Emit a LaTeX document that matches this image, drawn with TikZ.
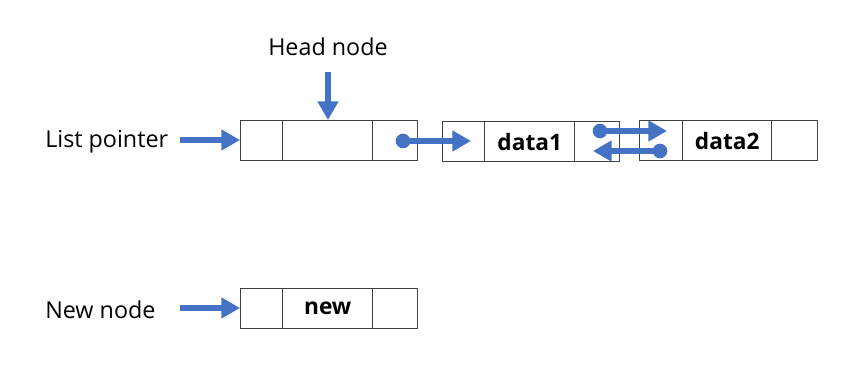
\documentclass[tikz,border=0pt]{standalone}
\usepackage{fontspec}
\setmainfont{Open Sans}
\usetikzlibrary{arrows.meta}
\definecolor{arrblue}{HTML}{4472C4}
\definecolor{boxline}{HTML}{404040}
\tikzset{
  cell/.style={draw=boxline, line width=1.1pt, minimum height=30pt, inner sep=0pt, anchor=north west},
  arr/.style={draw=arrblue, line width=3.8pt, -{Triangle[length=14pt,width=15pt]}},
  dot/.style={circle, fill=arrblue, minimum size=11pt, inner sep=0pt},
  lbl/.style={font=\fontsize{17.5}{20}\selectfont, inner sep=0pt},
  bold/.style={font=\fontsize{17}{20}\selectfont\bfseries, inner sep=0pt}
}
\begin{document}
\begin{tikzpicture}[x=0.75pt,y=-0.75pt]
\useasboundingbox (0,0) rectangle (858,366);
% head node
\node[cell, minimum width=31.5pt] (h1) at (240,120) {};
\node[cell, minimum width=67.5pt] (h2) at (282,120) {};
\node[cell, minimum width=33.75pt] (h3) at (372,120) {};
% data1
\node[cell, minimum width=31.5pt] (a1) at (442,121) {};
\node[cell, minimum width=67.5pt] (a2) at (484,121) {};
\node[cell, minimum width=33.75pt] (a3) at (574,121) {};
% data2
\node[cell, minimum width=32.25pt] (b1) at (639,120) {};
\node[cell, minimum width=66.75pt] (b2) at (682,120) {};
\node[cell, minimum width=34.5pt] (b3) at (771,120) {};
% new node
\node[cell, minimum width=31.5pt] (n1) at (240,288) {};
\node[cell, minimum width=67.5pt] (n2) at (282,288) {};
\node[cell, minimum width=33.75pt] (n3) at (372,288) {};
% texts
\node[bold] at (a2.center) {data1};
\node[bold] at (b2.center) {data2};
\node[bold] at (n2.center) {new};
\node[lbl] (hn) at (328,47) {Head node};
\node[lbl, anchor=west] (lp) at (45,142) {List pointer};
\node[lbl, anchor=west] (nn) at (45,310) {New node};
% arrows
\coordinate (lps) at (180,140);
\coordinate (nns) at (180,308);
\coordinate (hns) at (328,72);
\draw[arr] (lps) -- (lps -| h1.west);
\draw[arr] (nns) -- (nns -| n1.west);
\draw[arr] (hns) -- (hns |- h2.north);
% pointer links
\node[dot] (d1) at (403,141) {};
\coordinate (t1) at (471,141);
\draw[arr] (d1.center) -- (t1);
\node[dot] (d2) at (600,131) {};
\coordinate (t2) at (667,131);
\draw[arr] (d2.center) -- (t2);
\node[dot] (d3) at (660,151) {};
\coordinate (t3) at (593,151);
\draw[arr] (d3.center) -- (t3);
\end{tikzpicture}
\end{document}
